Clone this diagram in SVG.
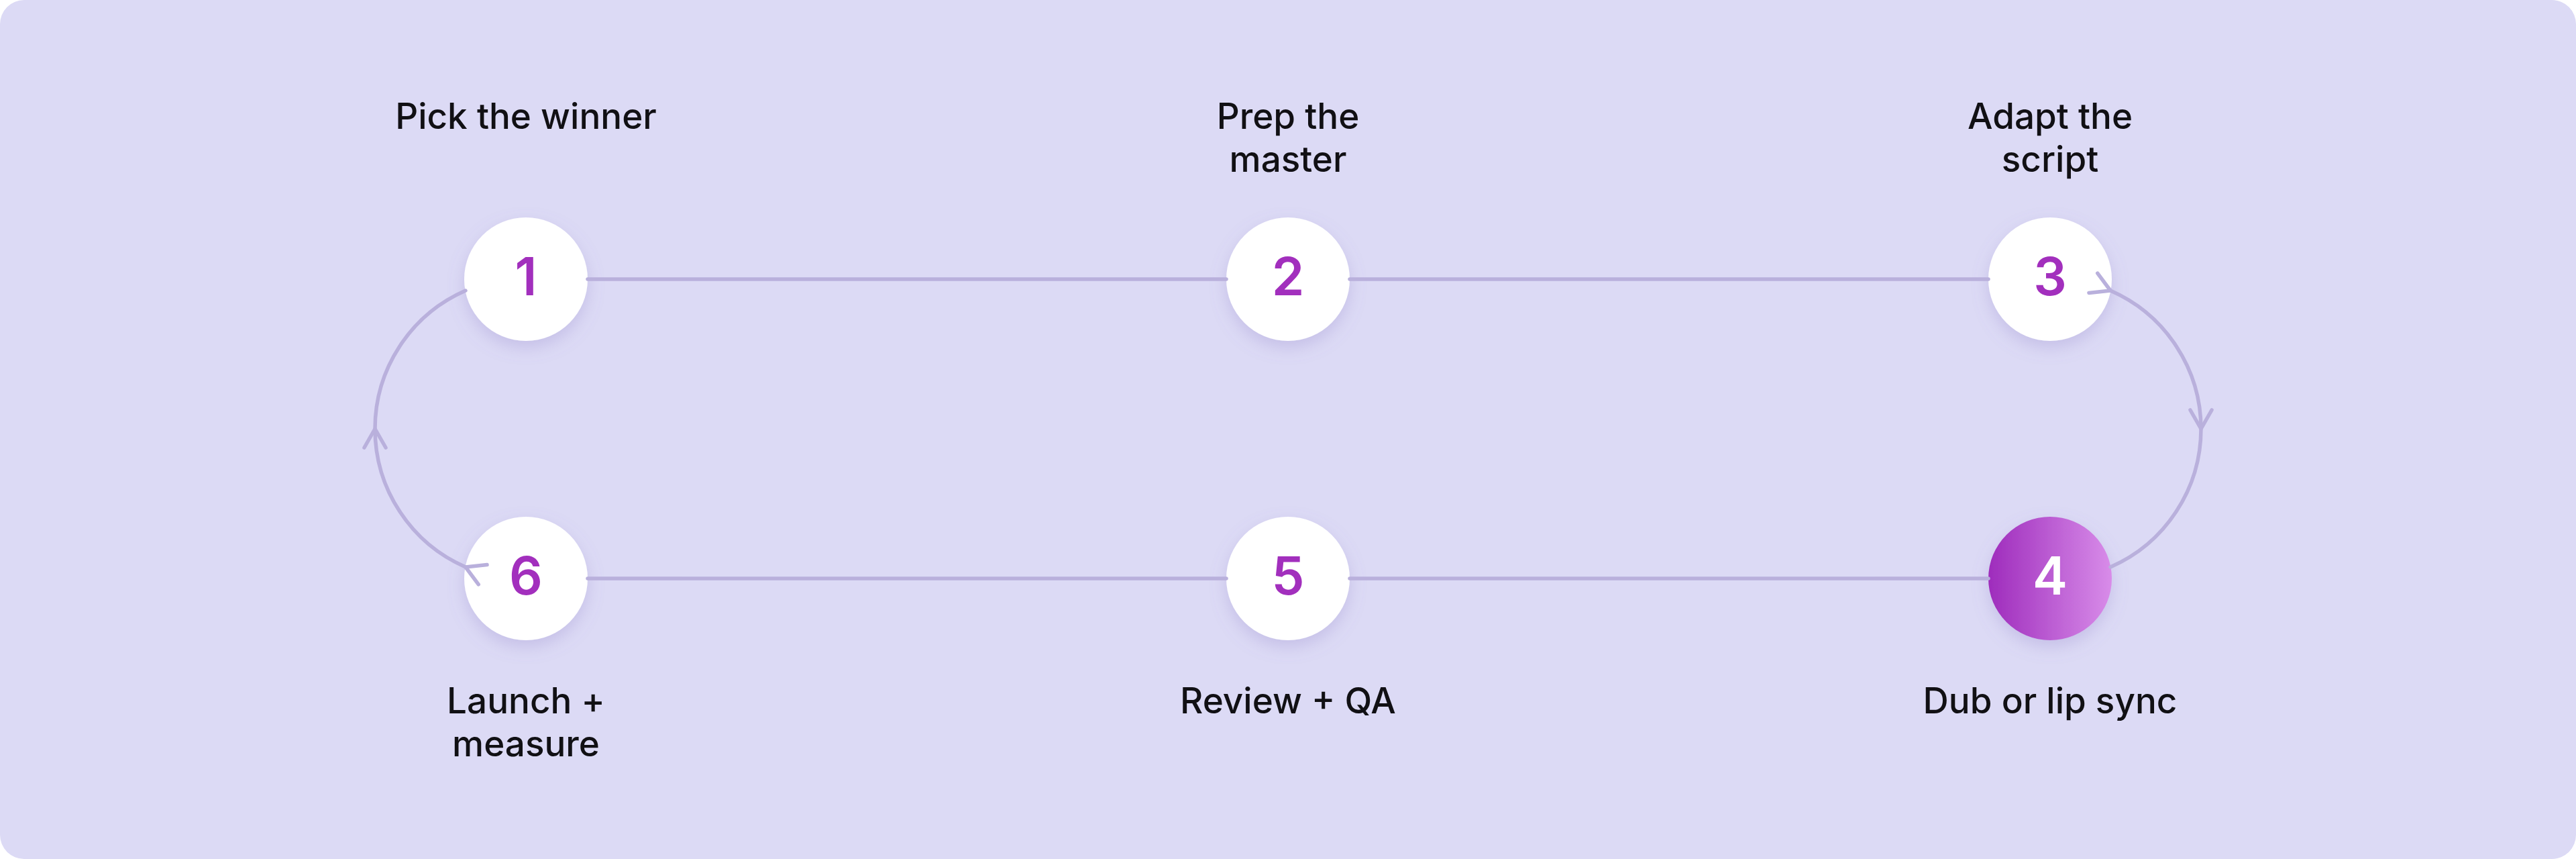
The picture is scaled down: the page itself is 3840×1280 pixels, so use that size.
<svg xmlns="http://www.w3.org/2000/svg" width="3840" height="1280" viewBox="0 0 3840 1280">
<style>
.lbl{font-family:Inter,"Liberation Sans",sans-serif;font-size:53px;font-weight:500;fill:#111014;text-anchor:middle}
.num{font-family:Inter,"Liberation Sans",sans-serif;font-size:78px;font-weight:600;fill:#a22fbd;text-anchor:middle}
.num4{fill:#ffffff}
.node{fill:#ffffff;filter:url(#sh)}
.conn{fill:none;stroke:#b9b0dc;stroke-width:5.5;stroke-linecap:round}
</style>
<defs>
<filter id="sh" x="-50%" y="-50%" width="200%" height="200%">
<feDropShadow dx="0" dy="10" stdDeviation="12" flood-color="#8a7cc4" flood-opacity="0.28"/>
</filter>
<linearGradient id="g4" x1="0" y1="0" x2="1" y2="0">
<stop offset="0" stop-color="#9e2cbc"/>
<stop offset="1" stop-color="#d88ce9"/>
</linearGradient>
<marker id="chev" markerUnits="userSpaceOnUse" markerWidth="80" markerHeight="80" refX="0" refY="0" viewBox="-40 -40 80 80" orient="auto" overflow="visible">
<path d="M -28 -16 L 0 0 L -28 16" fill="none" stroke="#b9b0dc" stroke-width="5.5" stroke-linecap="round" stroke-linejoin="round"/>
</marker>
</defs>
<rect x="0" y="0" width="3840" height="1280" fill="#ffffff"/>
<rect x="0" y="0" width="3840" height="1280" rx="36" ry="36" fill="#dcdaf5"/>

<g id="node1">
<circle class="node" cx="784" cy="416" r="92"/>
<text class="num" x="784" y="440">1</text>
<text class="lbl" x="784" y="192">Pick the winner</text>
</g>
<g id="node2">
<circle class="node" cx="1920" cy="416" r="92"/>
<text class="num" x="1920" y="440">2</text>
<text class="lbl" x="1920" y="192">Prep the</text>
<text class="lbl" x="1920" y="256">master</text>
</g>
<g id="node3">
<circle class="node" cx="3056" cy="416" r="92"/>
<text class="num" x="3056" y="440">3</text>
<text class="lbl" x="3056" y="192">Adapt the</text>
<text class="lbl" x="3056" y="256">script</text>
</g>
<g id="node4">
<circle class="node" cx="3056" cy="862" r="92" style="fill:url(#g4)"/>
<text class="num num4" x="3056" y="886">4</text>
<text class="lbl" x="3056" y="1063">Dub or lip sync</text>
</g>
<g id="node5">
<circle class="node" cx="1920" cy="862" r="92"/>
<text class="num" x="1920" y="886">5</text>
<text class="lbl" x="1920" y="1063">Review + QA</text>
</g>
<g id="node6">
<circle class="node" cx="784" cy="862" r="92"/>
<text class="num" x="784" y="886">6</text>
<text class="lbl" x="784" y="1063">Launch +</text>
<text class="lbl" x="784" y="1127">measure</text>
</g>

<g id="connectors">
<line class="conn" x1="876" y1="416" x2="1828" y2="416"/>
<line class="conn" x1="2012" y1="416" x2="2964" y2="416"/>
<line class="conn" x1="2964" y1="862" x2="2012" y2="862"/>
<line class="conn" x1="1828" y1="862" x2="876" y2="862"/>
<path class="conn" d="M 3146 433 A 225 225 0 0 1 3281 639 A 225 225 0 0 1 3146 845" marker-start="url(#chev)" marker-mid="url(#chev)"/>
<path class="conn" d="M 694 845 A 225 225 0 0 1 559 639 A 225 225 0 0 1 694 433" marker-start="url(#chev)" marker-mid="url(#chev)"/>
</g>
</svg>
